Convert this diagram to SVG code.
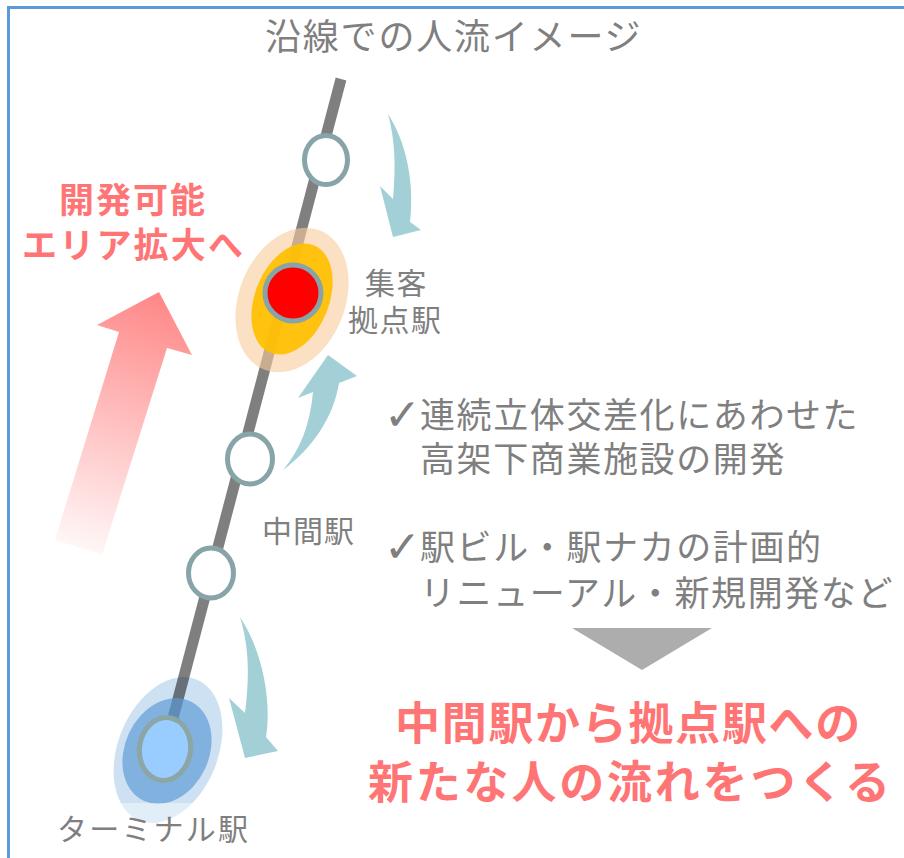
<svg xmlns="http://www.w3.org/2000/svg" width="904" height="858" viewBox="0 0 904 858">
<defs>
<style>
.t{font-family:"Noto Sans CJK JP","Noto Sans CJK SC",sans-serif;fill:#7f7f7f}
.b{font-family:"Noto Sans CJK JP","Noto Sans CJK SC",sans-serif;fill:#ff7575;font-weight:bold}
.ck{font-family:"DejaVu Sans",sans-serif;fill:#7f7f7f;font-size:44px}
.st{fill:#ffffff;stroke:#87a4a8;stroke-width:5}
.flow{fill:#a3d0d7}
</style>
<linearGradient id="pg" gradientUnits="userSpaceOnUse" x1="159" y1="292" x2="78" y2="550">
<stop offset="0" stop-color="#ff8080" stop-opacity="0.95"/>
<stop offset="1" stop-color="#ff8080" stop-opacity="0.06"/>
</linearGradient>
</defs>
<rect x="8.5" y="7.5" width="910" height="870" fill="#ffffff" stroke="#5b9bd5" stroke-width="3"/>

<text class="t" x="265" y="50" font-size="36" letter-spacing="1.8">沿線での人流イメージ</text>

<g id="expand-arrow">
<polygon points="159,292 192,355 167,348 102,555 55,540 119,332 97,325" fill="url(#pg)"/>
<text class="b" x="59" y="213" font-size="35" letter-spacing="2">開発可能</text>
<text class="b" x="22" y="258" font-size="35" letter-spacing="2.2">エリア拡大へ</text>
</g>

<g id="terminal-halo">
<ellipse cx="168" cy="750" rx="50" ry="76" transform="rotate(22 168 750)" fill="#9dc3e6" fill-opacity="0.5"/>
</g>

<g id="track">
<line x1="341" y1="79" x2="172" y2="722" stroke="#000000" stroke-opacity="0.5" stroke-width="11"/>
</g>

<g id="terminal">
<ellipse cx="167" cy="751" rx="42" ry="55" transform="rotate(25 167 751)" fill="#5b9bd5" fill-opacity="0.68"/>
<rect x="100" y="803" width="140" height="40" fill="#ffffff" fill-opacity="0.4"/>
<ellipse cx="165" cy="749" rx="25.5" ry="31.5" transform="rotate(8 165 749)" fill="#99ccff" stroke="#8ca5a5" stroke-width="5"/>
<text class="t" x="57" y="840" font-size="30" letter-spacing="2.2">ターミナル駅</text>
</g>

<g id="hub">
<ellipse cx="292" cy="300" rx="53" ry="75" transform="rotate(22 292 300)" fill="#f9cb9c" fill-opacity="0.6"/>
<ellipse cx="292" cy="299" rx="37" ry="58" transform="rotate(22 292 299)" fill="#ffc000" fill-opacity="0.93"/>
<circle cx="293" cy="293" r="28" fill="#ff0000" stroke="#87a4a8" stroke-width="5"/>
<text class="t" x="365" y="294" font-size="30" letter-spacing="1.5">集客</text>
<text class="t" x="348" y="331" font-size="30" letter-spacing="1.5">拠点駅</text>
</g>

<g id="station-top">
<ellipse class="st" cx="326" cy="160" rx="21.5" ry="24.5"/>
</g>
<g id="station-mid1">
<ellipse class="st" cx="250" cy="459" rx="22.5" ry="25"/>
<text class="t" x="262" y="542" font-size="30" letter-spacing="1">中間駅</text>
</g>
<g id="station-mid2">
<ellipse class="st" cx="211" cy="573" rx="22.5" ry="25"/>
</g>

<g id="connectors">
<path class="flow" d="M388,114 C405,140 415,180 410,222 L421,230 L393,237 L380,186 L393,199 C396,165 395,140 388,114 Z"/>
<path class="flow" d="M283,470 C310,450 333,420 339,383 L357,376 L328,355 L298,398 L313,392 C310,425 300,450 283,470 Z"/>
<path class="flow" d="M240,617 C262,650 272,700 266,737 L278,751 L245,758 L229,698 L245,713 C249,680 250,650 240,617 Z"/>
</g>

<g id="notes">
<text class="ck" x="384" y="430">✓</text>
<text class="t" x="420" y="428" font-size="35" letter-spacing="1.6">連続立体交差化にあわせた</text>
<text class="t" x="420" y="472" font-size="35" letter-spacing="1.6">高架下商業施設の開発</text>
<text class="ck" x="384" y="562">✓</text>
<text class="t" x="420" y="560" font-size="35" letter-spacing="1.6">駅ビル・駅ナカの計画的</text>
<text class="t" x="420" y="606" font-size="35" letter-spacing="1.6">リニューアル・新規開発など</text>
</g>

<g id="result-arrow">
<polygon points="572,628 712,628 642,670" fill="#adadad"/>
</g>

<g id="conclusion">
<text class="b" x="395" y="740" font-size="45" letter-spacing="1.7">中間駅から拠点駅への</text>
<text class="b" x="368" y="799" font-size="45" letter-spacing="2.8">新たな人の流れをつくる</text>
</g>
</svg>
